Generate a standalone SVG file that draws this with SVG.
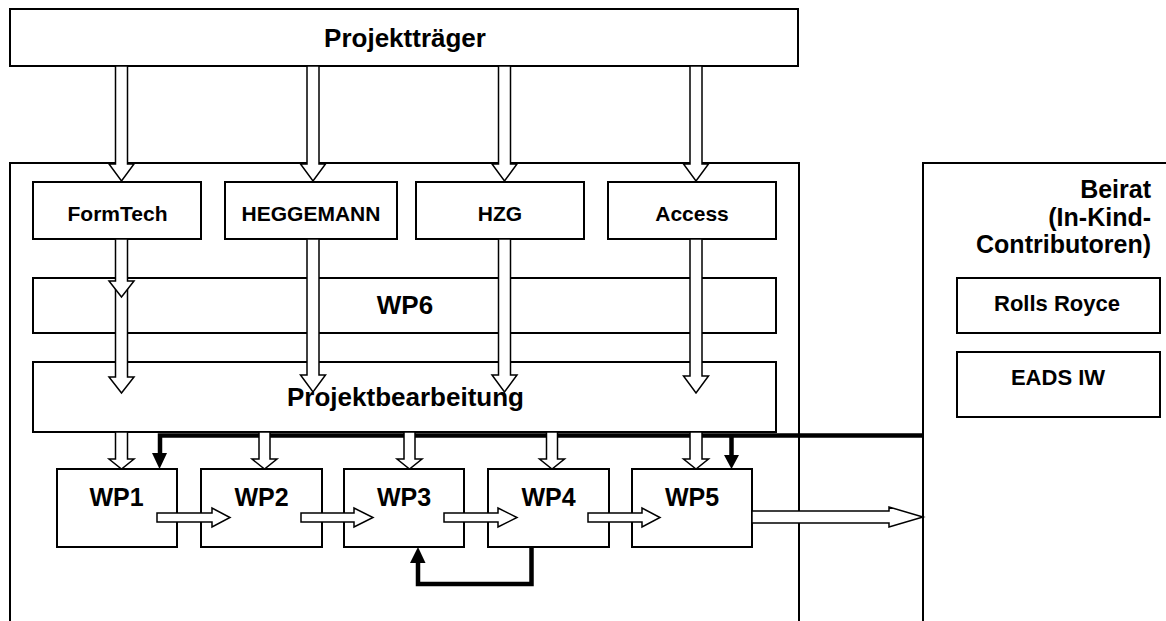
<svg xmlns="http://www.w3.org/2000/svg" width="1166" height="621" viewBox="0 0 1166 621">
<style>
  .box { fill: #ffffff; stroke: #000000; stroke-width: 2; }
  .frame { fill: none; stroke: #000000; stroke-width: 2; }
  .lbl { font-family: "Liberation Sans", Arial, sans-serif; font-weight: bold; fill: #000000; text-anchor: middle; }
  .ha { fill: #ffffff; stroke: #000000; stroke-width: 1.5; stroke-linejoin: miter; }
  .thick { fill: none; stroke: #000000; stroke-width: 4.5; stroke-linejoin: miter; }
  .head { fill: #000000; stroke: none; }
</style>
<rect x="0" y="0" width="1166" height="621" fill="#ffffff"/>

<g id="container-main"><path class="frame" d="M10,630 V163 H799 V630"/></g>
<g id="container-beirat">
  <path class="frame" d="M923,630 V163 H1175"/>
  <text class="lbl" style="text-anchor:end" x="1151" y="198" font-size="25">Beirat</text>
  <text class="lbl" style="text-anchor:end" x="1151" y="225.5" font-size="25">(In-Kind-</text>
  <text class="lbl" style="text-anchor:end" x="1151" y="253" font-size="25">Contributoren)</text>
</g>

<g id="projekttraeger"><rect class="box" x="10" y="9" width="788" height="57"/><text class="lbl" x="405" y="47" font-size="26">Projektträger</text></g>
<g id="formtech"><rect class="box" x="33" y="182" width="168" height="57"/><text class="lbl" x="117.5" y="221" font-size="21">FormTech</text></g>
<g id="heggemann"><rect class="box" x="225" y="182" width="172" height="57"/><text class="lbl" x="311" y="221" font-size="21">HEGGEMANN</text></g>
<g id="hzg"><rect class="box" x="416" y="182" width="168" height="57"/><text class="lbl" x="500" y="221" font-size="21">HZG</text></g>
<g id="access"><rect class="box" x="608" y="182" width="168" height="57"/><text class="lbl" x="692" y="221" font-size="21">Access</text></g>
<g id="wp6"><rect class="box" x="33" y="278" width="743" height="55"/><text class="lbl" x="405" y="314" font-size="26">WP6</text></g>
<g id="projektbearbeitung"><rect class="box" x="33" y="362" width="743" height="70"/><text class="lbl" x="405.5" y="406" font-size="26">Projektbearbeitung</text></g>
<g id="wp1"><rect class="box" x="57" y="469" width="120" height="78"/><text class="lbl" x="116.5" y="506" font-size="25">WP1</text></g>
<g id="wp2"><rect class="box" x="201" y="469" width="121" height="78"/><text class="lbl" x="261.5" y="506" font-size="25">WP2</text></g>
<g id="wp3"><rect class="box" x="344" y="469" width="120" height="78"/><text class="lbl" x="404" y="506" font-size="25">WP3</text></g>
<g id="wp4"><rect class="box" x="488" y="469" width="121" height="78"/><text class="lbl" x="548.5" y="506" font-size="25">WP4</text></g>
<g id="wp5"><rect class="box" x="632" y="469" width="120" height="78"/><text class="lbl" x="692" y="506" font-size="25">WP5</text></g>
<g id="rolls-royce"><rect class="box" x="957" y="278" width="203" height="55"/><text class="lbl" x="1057" y="311" font-size="22">Rolls Royce</text></g>
<g id="eads-iw"><rect class="box" x="957" y="352" width="203" height="65"/><text class="lbl" x="1058" y="385" font-size="22">EADS IW</text></g>

<g id="connectors">
  <!-- thick feedback / advisory lines -->
  <path class="thick" d="M923,435.5 H160 V454"/>
  <polygon class="head" points="152,453 167,453 159.5,469"/>
  <path class="thick" d="M731.5,435.5 V456"/>
  <polygon class="head" points="724,455 739,455 731.5,469"/>
  <path class="thick" d="M531.5,547 V584 H418 V562"/>
  <polygon class="head" points="410,563 425.5,563 418,547"/>

  <!-- Projektträger to partners -->
  <polygon class="ha" points="115.5,66 127.5,66 127.5,164 134,164 121.5,181 109,164 115.5,164"/>
  <polygon class="ha" points="307,66 319,66 319,164 325.5,164 313,181 300.5,164 307,164"/>
  <polygon class="ha" points="498.5,66 510.5,66 510.5,164 517,164 504.5,181 492,164 498.5,164"/>
  <polygon class="ha" points="690,66 702,66 702,164 708.5,164 696,181 683.5,164 690,164"/>

  <!-- partners to WP6 / Projektbearbeitung -->
  <polygon class="ha" points="115.5,286 127.5,286 127.5,377 134,377 121.5,393 109,377 115.5,377"/>
  <polygon class="ha" points="115.5,239 127.5,239 127.5,281 134,281 121.5,297 109,281 115.5,281"/>
  <polygon class="ha" points="307,239 319,239 319,375 325.5,375 313,392 300.5,375 307,375"/>
  <polygon class="ha" points="498.5,239 510.5,239 510.5,375 517,375 504.5,392 492,375 498.5,375"/>
  <polygon class="ha" points="690,239 702,239 702,376 708.5,376 696,393 683.5,376 690,376"/>

  <!-- Projektbearbeitung to WPs -->
  <polygon class="ha" points="115.5,432 127.5,432 127.5,459 134,459 121.5,469 109,459 115.5,459"/>
  <polygon class="ha" points="259,432 270,432 270,459 277,459 264.5,469 252,459 259,459"/>
  <polygon class="ha" points="404,432 415,432 415,459 422,459 409.5,469 397,459 404,459"/>
  <polygon class="ha" points="546.5,432 557.5,432 557.5,459 564.5,459 552,469 539.5,459 546.5,459"/>
  <polygon class="ha" points="690,432 702,432 702,459 708.5,459 696,469 683.5,459 690,459"/>

  <!-- WP chain -->
  <polygon class="ha" points="157,513 212,513 212,508 230,517.5 212,527 212,522 157,522"/>
  <polygon class="ha" points="301,513 354,513 354,508 373,517.5 354,527 354,522 301,522"/>
  <polygon class="ha" points="444,513 498,513 498,508 517,517.5 498,527 498,522 444,522"/>
  <polygon class="ha" points="588,513 642,513 642,508 660,517.5 642,527 642,522 588,522"/>
  <polygon class="ha" points="752,511 889,511 889,507 923,517 889,527 889,523 752,523"/>
</g>
</svg>
